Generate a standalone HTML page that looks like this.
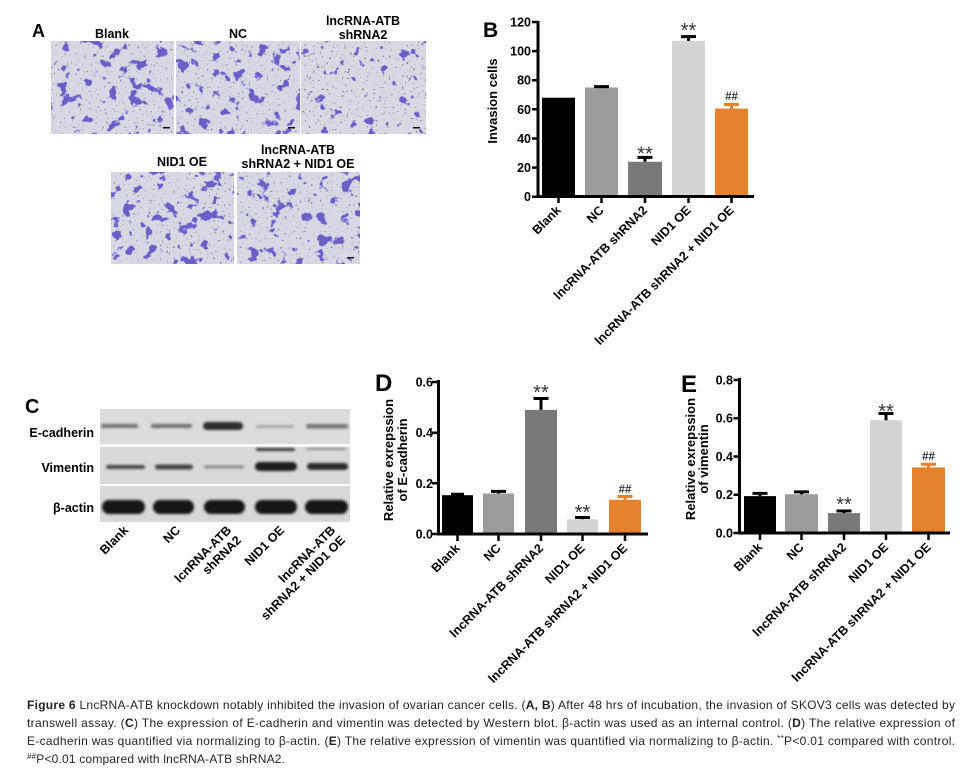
<!DOCTYPE html>
<html><head><meta charset="utf-8">
<style>
html,body{margin:0;padding:0;background:#fff;}
svg{display:block;}
text{font-family:"Liberation Sans",Arial,sans-serif;}
</style></head><body>
<svg width="976" height="778" viewBox="0 0 976 778" xmlns="http://www.w3.org/2000/svg">
<defs>
<filter id="cell" x="0" y="0" width="1" height="1" color-interpolation-filters="sRGB">
 <feTurbulence type="fractalNoise" baseFrequency="0.085" numOctaves="3" seed="7"/>
 <feColorMatrix type="matrix" values="0 0 0 0 0.42  0 0 0 0 0.37  0 0 0 0 0.79  15 0 0 0 -9.1"/>
</filter>
<filter id="cellS" x="0" y="0" width="1" height="1" color-interpolation-filters="sRGB">
 <feTurbulence type="fractalNoise" baseFrequency="0.085" numOctaves="3" seed="11"/>
 <feColorMatrix type="matrix" values="0 0 0 0 0.42  0 0 0 0 0.37  0 0 0 0 0.79  15 0 0 0 -9.8"/>
</filter>
<filter id="cellD" x="0" y="0" width="1" height="1" color-interpolation-filters="sRGB">
 <feTurbulence type="fractalNoise" baseFrequency="0.09" numOctaves="3" seed="5"/>
 <feColorMatrix type="matrix" values="0 0 0 0 0.42  0 0 0 0 0.37  0 0 0 0 0.79  15 0 0 0 -8.8"/>
</filter>
<filter id="dots" x="0" y="0" width="1" height="1" color-interpolation-filters="sRGB">
 <feTurbulence type="fractalNoise" baseFrequency="0.45" numOctaves="1" seed="3"/>
 <feColorMatrix type="matrix" values="0 0 0 0 0.35  0 0 0 0 0.35  0 0 0 0 0.42  12 0 0 0 -8.0"/>
</filter>
<filter id="bl" x="-20%" y="-150%" width="140%" height="400%"><feGaussianBlur stdDeviation="1.3"/></filter>
</defs>

<!-- ===== Panel A ===== -->
<text x="32" y="37" font-size="18" font-weight="bold">A</text>
<g font-size="12.5" font-weight="bold" text-anchor="middle">
<text x="112" y="38">Blank</text>
<text x="238" y="38">NC</text>
<text x="363" y="25">lncRNA-ATB</text>
<text x="363" y="39">shRNA2</text>
<text x="182" y="166">NID1 OE</text>
<text x="298" y="154">lncRNA-ATB</text>
<text x="298" y="168">shRNA2 + NID1 OE</text>
</g>
<g>
<rect x="51" y="41" width="123" height="93" fill="#d7d8e4"/>
<rect x="51" y="41" width="123" height="93" filter="url(#dots)" opacity="0.6"/>
<rect x="51" y="41" width="123" height="93" filter="url(#cell)"/>
<rect x="163" y="127" width="7" height="1.5" fill="#111"/>

<rect x="176" y="41" width="124" height="93" fill="#d7d8e4"/>
<rect x="176" y="41" width="124" height="93" filter="url(#dots)" opacity="0.6"/>
<rect x="176" y="41" width="124" height="93" filter="url(#cell)"/>
<rect x="288" y="127" width="7" height="1.5" fill="#111"/>

<rect x="301" y="41" width="125" height="93" fill="#d9d9e3"/>
<rect x="301" y="41" width="125" height="93" filter="url(#dots)" opacity="0.8"/>
<rect x="301" y="41" width="125" height="93" filter="url(#cellS)"/>
<rect x="413" y="127" width="7" height="1.5" fill="#111"/>

<rect x="111" y="172" width="123" height="92" fill="#d7d8e4"/>
<rect x="111" y="172" width="123" height="92" filter="url(#dots)" opacity="0.6"/>
<rect x="111" y="172" width="123" height="92" filter="url(#cellD)"/>

<rect x="237" y="172" width="123" height="92" fill="#d7d8e4"/>
<rect x="237" y="172" width="123" height="92" filter="url(#dots)" opacity="0.6"/>
<rect x="237" y="172" width="123" height="92" filter="url(#cell)"/>
<rect x="347" y="257" width="7" height="1.5" fill="#111"/>
</g>

<!-- ===== Panel B ===== -->
<text x="483" y="37" font-size="21" font-weight="bold">B</text>
<text transform="translate(497,101) rotate(-90)" font-size="13" font-weight="bold" text-anchor="middle">Invasion cells</text>
<g font-size="12.5" font-weight="bold" text-anchor="end">
<text x="531" y="201.2">0</text>
<text x="531" y="172.1">20</text>
<text x="531" y="143">40</text>
<text x="531" y="113.8">60</text>
<text x="531" y="84.7">80</text>
<text x="531" y="55.6">100</text>
<text x="531" y="26.5">120</text>
</g>
<rect x="542" y="97.7" width="33" height="99" fill="#000"/>
<rect x="585" y="87.5" width="33" height="109.2" fill="#9c9c9e"/>
<rect x="628" y="161.8" width="34" height="34.9" fill="#797979"/>
<rect x="672" y="40.9" width="33" height="155.8" fill="#d4d4d4"/>
<rect x="715" y="108.6" width="33" height="88.1" fill="#e6822c"/>
<g stroke="#000" fill="none">
<path d="M601.5 87.5V86.1M594 86.6H609" stroke-width="3"/>
<path d="M645 161.8V157.4M637.5 157.4H652.5" stroke-width="3"/>
<path d="M688.5 40.9V36.6M681 36.6H696" stroke-width="3"/>
</g>
<path d="M731.5 108.6V104.5M724 104.5H739" stroke="#e6822c" stroke-width="3" fill="none"/>
<path d="M538 21V198M537 196.5H754" stroke="#000" stroke-width="3" fill="none"/>
<path d="M532 196.7H538M532 167.6H538M532 138.5H538M532 109.3H538M532 80.2H538M532 51.1H538M532 22H538M558.5 196V203M601.5 196V203M645 196V203M688.5 196V203M731.5 196V203" stroke="#000" stroke-width="2.5"/>
<g font-size="20" text-anchor="middle" fill="#333">
<text x="645" y="160.5">**</text>
<text x="688.5" y="37">**</text>
</g>
<text x="731.5" y="100" font-size="11.5" font-weight="bold" text-anchor="middle" fill="#333">##</text>
<g font-size="12.5" font-weight="bold" text-anchor="end">
<text transform="translate(561.5,211) rotate(-45)">Blank</text>
<text transform="translate(604.5,211) rotate(-45)">NC</text>
<text transform="translate(648,211) rotate(-45)">lncRNA-ATB shRNA2</text>
<text transform="translate(691.5,211) rotate(-45)">NID1 OE</text>
<text transform="translate(734.5,211) rotate(-45)">lncRNA-ATB shRNA2 + NID1 OE</text>
</g>

<!-- ===== Panel C ===== -->
<text x="25" y="413" font-size="20" font-weight="bold">C</text>
<g font-size="12.5" font-weight="bold" text-anchor="end">
<text x="94" y="437">E-cadherin</text>
<text x="94" y="472">Vimentin</text>
<text x="94" y="512">β-actin</text>
</g>
<rect x="100" y="409" width="250" height="35" fill="#dcdcdc"/>
<rect x="100" y="447" width="250" height="37" fill="#d9d9d9"/>
<rect x="100" y="486" width="250" height="36" fill="#d8d8d8"/>
<g filter="url(#bl)">
<rect x="101" y="424" width="37" height="4" rx="2" fill="#6e6e6e"/>
<rect x="151" y="424" width="41" height="4" rx="2" fill="#6e6e6e"/>
<rect x="203" y="422" width="40" height="8" rx="4" fill="#2f2f2f"/>
<rect x="256" y="425" width="38" height="3" rx="1.5" fill="#a8a8a8"/>
<rect x="306" y="424" width="42" height="4.5" rx="2" fill="#777"/>

<rect x="106" y="465" width="39" height="4" rx="2" fill="#4a4a4a"/>
<rect x="155" y="464.5" width="38" height="5" rx="2.5" fill="#444"/>
<rect x="204" y="465.5" width="40" height="3" rx="1.5" fill="#8a8a8a"/>
<rect x="255" y="462" width="42" height="9" rx="4.5" fill="#1e1e1e"/>
<rect x="307" y="463" width="41" height="7" rx="3.5" fill="#2a2a2a"/>
<rect x="256" y="448" width="39" height="3" rx="1.5" fill="#333"/>
<rect x="306" y="448" width="40" height="2" rx="1" fill="#888"/>

<rect x="102" y="500" width="43" height="14" rx="7" fill="#151515"/>
<rect x="153" y="500" width="41" height="14" rx="7" fill="#151515"/>
<rect x="204" y="500" width="41" height="14" rx="7" fill="#151515"/>
<rect x="255" y="500" width="42" height="14" rx="7" fill="#151515"/>
<rect x="305" y="500" width="43" height="14" rx="7" fill="#151515"/>
</g>
<g font-size="12.5" font-weight="bold" text-anchor="end">
<text transform="translate(129,531) rotate(-45)">Blank</text>
<text transform="translate(181,531) rotate(-45)">NC</text>
<text transform="translate(232,531) rotate(-45)"><tspan x="0" y="0">lcnRNA-ATB</tspan><tspan x="0" y="14">shRNA2</tspan></text>
<text transform="translate(285,531) rotate(-45)">NID1 OE</text>
<text transform="translate(336,531) rotate(-45)"><tspan x="0" y="0">lncRNA-ATB</tspan><tspan x="0" y="14">shRNA2 + NID1 OE</tspan></text>
</g>

<!-- ===== Panel D ===== -->
<text x="375" y="391" font-size="24" font-weight="bold">D</text>
<g font-size="13" font-weight="bold" text-anchor="middle">
<text transform="translate(393,460) rotate(-90)">Relative exrepssion</text>
<text transform="translate(407,460) rotate(-90)">of E-cadherin</text>
</g>
<g font-size="12.5" font-weight="bold" text-anchor="end">
<text x="433" y="538.5">0.0</text>
<text x="433" y="487.8">0.2</text>
<text x="433" y="437.2">0.4</text>
<text x="433" y="386.5">0.6</text>
</g>
<rect x="442" y="495.2" width="31" height="38.8" fill="#000"/>
<rect x="483" y="493.5" width="31" height="40.5" fill="#9c9c9e"/>
<rect x="525" y="409.9" width="32" height="124.1" fill="#797979"/>
<rect x="567" y="519.3" width="31" height="14.7" fill="#d4d4d4"/>
<rect x="609" y="499.8" width="32" height="34.2" fill="#e6822c"/>
<g stroke="#000" fill="none" stroke-width="3">
<path d="M457.5 495.2V494.3M451 494.3H464"/>
<path d="M498.5 493.5V491.4M491 491.4H506"/>
<path d="M541 409.9V398.5M533.5 398.5H548.5"/>
<path d="M582.5 519.3V517.5M575 517.5H590"/>
</g>
<path d="M625 499.8V496.5M617.5 496.5H632.5" stroke="#e6822c" stroke-width="3" fill="none"/>
<path d="M438.5 380V535.5M437 534H648" stroke="#000" stroke-width="3" fill="none"/>
<path d="M432 534H438M432 483.3H438M432 432.7H438M432 382H438M457.5 534V541M498.5 534V541M541 534V541M582.5 534V541M625 534V541" stroke="#000" stroke-width="2.5"/>
<g font-size="20" text-anchor="middle" fill="#333">
<text x="541" y="399">**</text>
<text x="582.5" y="519">**</text>
</g>
<text x="625" y="493" font-size="11.5" font-weight="bold" text-anchor="middle" fill="#333">##</text>
<g font-size="12.5" font-weight="bold" text-anchor="end">
<text transform="translate(460.5,549) rotate(-45)">Blank</text>
<text transform="translate(501.5,549) rotate(-45)">NC</text>
<text transform="translate(544,549) rotate(-45)">lncRNA-ATB shRNA2</text>
<text transform="translate(585.5,549) rotate(-45)">NID1 OE</text>
<text transform="translate(628,549) rotate(-45)">lncRNA-ATB shRNA2 + NID1 OE</text>
</g>

<!-- ===== Panel E ===== -->
<text x="681" y="392" font-size="24" font-weight="bold">E</text>
<g font-size="13" font-weight="bold" text-anchor="middle">
<text transform="translate(695,459) rotate(-90)">Relative exrepssion</text>
<text transform="translate(708,459) rotate(-90)">of vimentin</text>
</g>
<g font-size="12.5" font-weight="bold" text-anchor="end">
<text x="733" y="537.5">0.0</text>
<text x="733" y="499.2">0.2</text>
<text x="733" y="461">0.4</text>
<text x="733" y="422.7">0.6</text>
<text x="733" y="384.5">0.8</text>
</g>
<rect x="744" y="496.1" width="32" height="36.9" fill="#000"/>
<rect x="785" y="494.2" width="33" height="38.8" fill="#9c9c9e"/>
<rect x="828" y="513.1" width="32" height="19.9" fill="#797979"/>
<rect x="870" y="420.2" width="32" height="112.8" fill="#d4d4d4"/>
<rect x="912" y="467.4" width="33" height="65.6" fill="#e6822c"/>
<g stroke="#000" fill="none" stroke-width="3">
<path d="M760 496.1V493.4M752.5 493.4H767.5"/>
<path d="M801.5 494.2V491.9M794 491.9H809"/>
<path d="M844 513.1V511M836.5 511H851.5"/>
<path d="M886 420.2V413.5M878.5 413.5H893.5"/>
</g>
<path d="M928.5 467.4V464.2M921 464.2H936" stroke="#e6822c" stroke-width="3" fill="none"/>
<path d="M739.5 378V534.5M738 533H950" stroke="#000" stroke-width="3" fill="none"/>
<path d="M733.5 533H739.5M733.5 494.75H739.5M733.5 456.5H739.5M733.5 418.25H739.5M733.5 380H739.5M760 533V540M801.5 533V540M844 533V540M886 533V540M928.5 533V540" stroke="#000" stroke-width="2.5"/>
<g font-size="20" text-anchor="middle" fill="#333">
<text x="844" y="511">**</text>
<text x="886" y="418">**</text>
</g>
<text x="928.5" y="460" font-size="11.5" font-weight="bold" text-anchor="middle" fill="#333">##</text>
<g font-size="12.5" font-weight="bold" text-anchor="end">
<text transform="translate(763,548) rotate(-45)">Blank</text>
<text transform="translate(804.5,548) rotate(-45)">NC</text>
<text transform="translate(847,548) rotate(-45)">lncRNA-ATB shRNA2</text>
<text transform="translate(889,548) rotate(-45)">NID1 OE</text>
<text transform="translate(931.5,548) rotate(-45)">lncRNA-ATB shRNA2 + NID1 OE</text>
</g>

<!-- ===== Caption ===== -->
<g font-size="12" fill="#231f20">
<text x="27" y="709" textLength="928" lengthAdjust="spacing"><tspan font-weight="bold">Figure 6</tspan> LncRNA-ATB knockdown notably inhibited the invasion of ovarian cancer cells. (<tspan font-weight="bold">A, B</tspan>) After 48 hrs of incubation, the invasion of SKOV3 cells was detected by</text>
<text x="27" y="727" textLength="928" lengthAdjust="spacing">transwell assay. (<tspan font-weight="bold">C</tspan>) The expression of E-cadherin and vimentin was detected by Western blot. β-actin was used as an internal control. (<tspan font-weight="bold">D</tspan>) The relative expression of</text>
<text x="27" y="745" textLength="928" lengthAdjust="spacing">E-cadherin was quantified via normalizing to β-actin. (<tspan font-weight="bold">E</tspan>) The relative expression of vimentin was quantified via normalizing to β-actin. <tspan font-size="8" dy="-4">**</tspan><tspan dy="4">P&lt;0.01 compared with control.</tspan></text>
<text x="27" y="763" textLength="258" lengthAdjust="spacing"><tspan font-size="8" dy="-4">##</tspan><tspan dy="4">P&lt;0.01 compared with lncRNA-ATB shRNA2.</tspan></text>
</g>
</svg>
</body></html>
